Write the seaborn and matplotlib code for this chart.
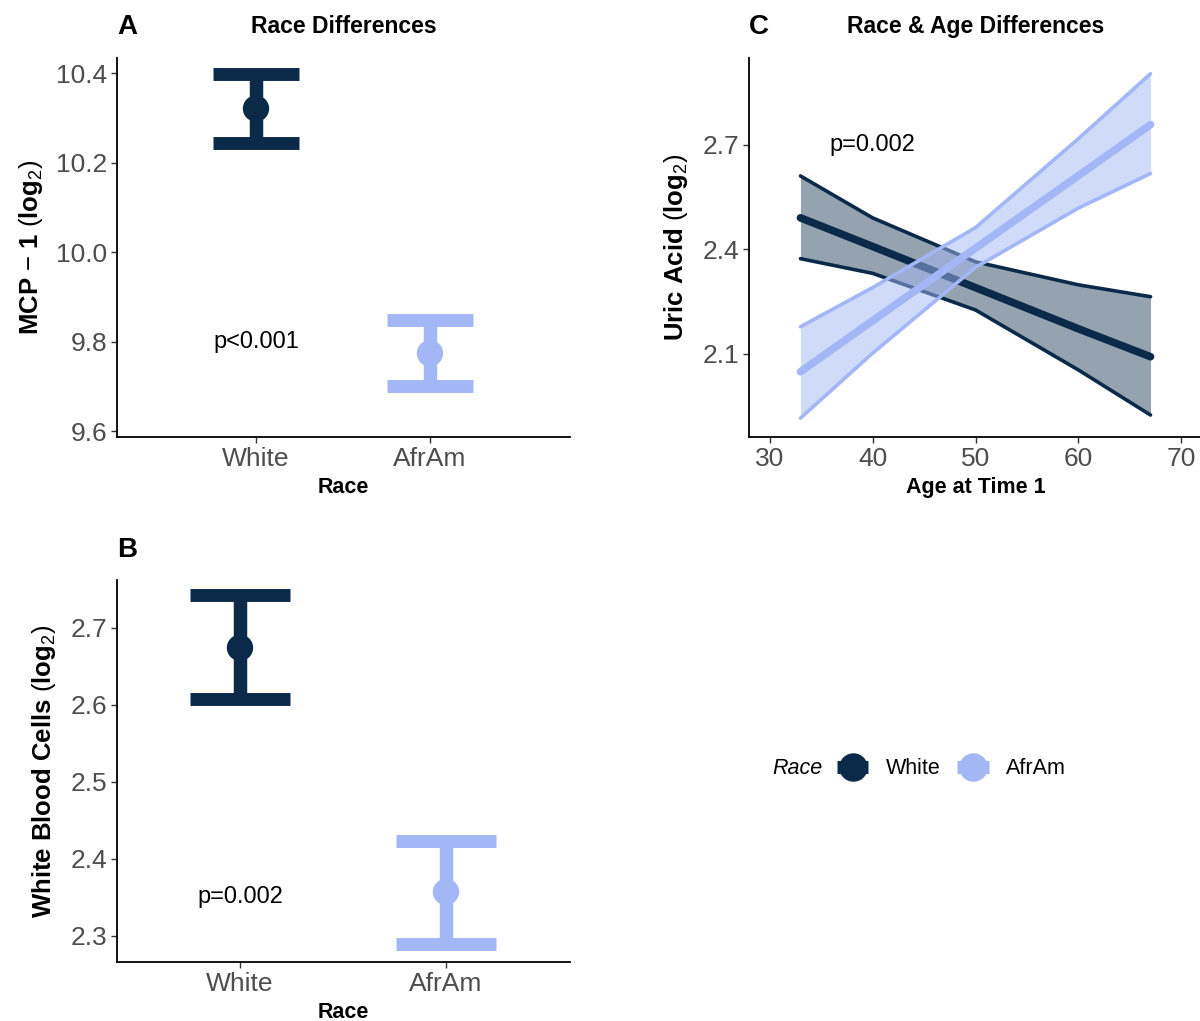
import numpy as np
import pandas as pd
import matplotlib
matplotlib.use("Agg")
import matplotlib.pyplot as plt
from matplotlib.lines import Line2D
import seaborn as sns

# ---------------- data ----------------
race = ["White", "AfrAm"]
mcp_mean = [10.321, 9.774]
mcp_lower = [10.244, 9.700]
mcp_upper = [10.398, 9.848]

wbc_mean = [2.674, 2.357]
wbc_lower = [2.607, 2.290]
wbc_upper = [2.742, 2.423]

age = [33, 40, 50, 60, 67]
uric_white_fit = [2.490, 2.408, 2.290, 2.172, 2.092]
uric_white_lo = [2.373, 2.331, 2.226, 2.054, 1.925]
uric_white_hi = [2.610, 2.490, 2.364, 2.298, 2.264]
uric_afr_fit = [2.049, 2.195, 2.403, 2.611, 2.757]
uric_afr_lo = [1.916, 2.102, 2.348, 2.518, 2.617]
uric_afr_hi = [2.178, 2.290, 2.462, 2.717, 2.903]

p_a = "p<0.001"
p_b = "p=0.002"
p_c = "p=0.002"

# ---------------- style ----------------
sns.set_theme(style="ticks")
plt.rcParams["font.family"] = ["Liberation Sans", "DejaVu Sans"]
plt.rcParams["mathtext.fontset"] = "custom"
plt.rcParams["mathtext.rm"] = "Liberation Sans"
plt.rcParams["mathtext.bf"] = "Liberation Sans:bold"
plt.rcParams["mathtext.it"] = "Liberation Sans:italic"
plt.rcParams["text.color"] = "black"
plt.rcParams["axes.labelcolor"] = "black"
plt.rcParams["axes.titlecolor"] = "black"

NAVY = "#0B2A49"
LIGHT = "#A3B6F5"
palette = {"White": NAVY, "AfrAm": LIGHT}
TICKC = "#4D4D4D"

W, H = 1200, 1021
fig = plt.figure(figsize=(W / 100, H / 100), dpi=100)


def rect(l, t, r, b):
    return [l / W, 1 - b / H, (r - l) / W, (b - t) / H]


def style_axes(ax):
    sns.despine(ax=ax)
    for s in ("left", "bottom"):
        ax.spines[s].set_color("black")
        ax.spines[s].set_linewidth(1.3)
    ax.tick_params(axis="both", length=4, width=1.0, color="#333333",
                   labelsize=19, labelcolor=TICKC, pad=3)
    ax.tick_params(axis="x", pad=3.5)
    ax.grid(False)


def race_panel(ax, means, lows, highs):
    pos = np.arange(len(race))
    df = pd.DataFrame({"Race": race, "mean": means})
    for i, r in enumerate(race):
        c = palette[r]
        ax.vlines(pos[i], lows[i], highs[i], color=c, lw=9.7, zorder=2)
        ax.hlines([lows[i], highs[i]], pos[i] - 0.245, pos[i] + 0.245,
                  color=c, lw=9.3, zorder=2)
    sns.scatterplot(data=df, x="Race", y="mean", hue="Race", palette=palette,
                    s=360, linewidth=0, legend=False, ax=ax, zorder=3)
    ax.set_xticks(pos)
    ax.set_xticklabels(race)


# ---------------- Panel A ----------------
axA = fig.add_axes(rect(117, 58, 570, 437))
race_panel(axA, mcp_mean, mcp_lower, mcp_upper)
axA.set_xlim(-0.799, 1.805)
axA.set_ylim(9.587, 10.434)
axA.set_yticks([9.6, 9.8, 10.0, 10.2, 10.4])
axA.set_yticklabels(["9.6", "9.8", "10.0", "10.2", "10.4"])
axA.text(0, 9.8, p_a, ha="center", va="center", fontsize=17, color="black")
style_axes(axA)
axA.set_xlabel("Race", fontsize=15.5, fontweight="bold", labelpad=4)
axA.set_ylabel("$\\mathbf{MCP}\\ \\mathrm{\u2212}\\ \\mathbf{1}\\ (\\mathbf{log}_{2})$", fontsize=18.5)
axA.yaxis.set_label_coords(-0.16, 0.5)
axA.set_title("Race Differences", fontsize=16.5, fontweight="bold", pad=18)

# ---------------- Panel B ----------------
axB = fig.add_axes(rect(117, 580, 570, 962))
race_panel(axB, wbc_mean, wbc_lower, wbc_upper)
axB.set_xlim(-0.597, 1.602)
axB.set_ylim(2.266, 2.762)
axB.set_yticks([2.3, 2.4, 2.5, 2.6, 2.7])
axB.set_yticklabels(["2.3", "2.4", "2.5", "2.6", "2.7"])
axB.text(0, 2.35, p_b, ha="center", va="center", fontsize=17, color="black")
style_axes(axB)
axB.set_xlabel("Race", fontsize=15.5, fontweight="bold", labelpad=4)
axB.set_ylabel(r"$\mathbf{White\ Blood\ Cells}\ (\mathbf{log}_{2})$", fontsize=18.5)
axB.yaxis.set_label_coords(-0.13, 0.5)

# ---------------- Panel C ----------------
axC = fig.add_axes(rect(749, 58, 1202, 437))
cdf = pd.DataFrame({
    "age": age * 2,
    "fit": uric_white_fit + uric_afr_fit,
    "lo": uric_white_lo + uric_afr_lo,
    "hi": uric_white_hi + uric_afr_hi,
    "Race": ["White"] * len(age) + ["AfrAm"] * len(age),
})
z = 2
for r, a in (("White", 0.43), ("AfrAm", 0.5)):
    sub = cdf[cdf["Race"] == r]
    c = palette[r]
    axC.fill_between(sub["age"], sub["lo"], sub["hi"], color=c, alpha=a,
                     linewidth=0, zorder=z)
    sns.lineplot(data=sub, x="age", y="lo", color=c, lw=2.6, ax=axC, zorder=z + 1)
    sns.lineplot(data=sub, x="age", y="hi", color=c, lw=2.6, ax=axC, zorder=z + 1)
    sns.lineplot(data=sub, x="age", y="fit", color=c, lw=5.5, ax=axC, zorder=z + 1)
    z += 2
axC.set_xlim(28, 72)
axC.set_ylim(1.862, 2.948)
axC.set_xticks([30, 40, 50, 60, 70])
axC.set_yticks([2.1, 2.4, 2.7])
axC.set_yticklabels(["2.1", "2.4", "2.7"])
axC.text(40, 2.7, p_c, ha="center", va="center", fontsize=17, color="black")
style_axes(axC)
axC.set_xlabel("Age at Time 1", fontsize=15.5, fontweight="bold", labelpad=4)
axC.set_ylabel(r"$\mathbf{Uric\ Acid}\ (\mathbf{log}_{2})$", fontsize=18.5)
axC.yaxis.set_label_coords(-0.13, 0.5)
axC.set_title("Race & Age Differences", fontsize=16.5, fontweight="bold", pad=18)

# ---------------- tags ----------------
fig.text(117 / W, 1 - 27 / H, "A", fontsize=20, fontweight="bold", ha="left", va="center")
fig.text(117 / W, 1 - 550 / H, "B", fontsize=20, fontweight="bold", ha="left", va="center")
fig.text(749 / W, 1 - 27 / H, "C", fontsize=20, fontweight="bold", ha="left", va="center")

# ---------------- legend ----------------
handles = []
for r in race:
    c = palette[r]
    handles.append((Line2D([0], [0], color=c, lw=9.4, solid_capstyle="butt"),
                    Line2D([0], [0], marker="o", color=c, ms=19.5, lw=0)))
fig.legend(handles, race, loc="center left",
           bbox_to_anchor=(837 / W, 1 - 769 / H), ncol=2, frameon=False,
           fontsize=15.5, handlelength=1.45, handletextpad=0.8,
           columnspacing=0.8, borderpad=0, borderaxespad=0, labelcolor="black")
fig.text(797 / W, 1 - 769 / H, "Race", fontsize=15.5, style="italic",
         ha="center", va="center")

fig.savefig("out.png", dpi=100)
